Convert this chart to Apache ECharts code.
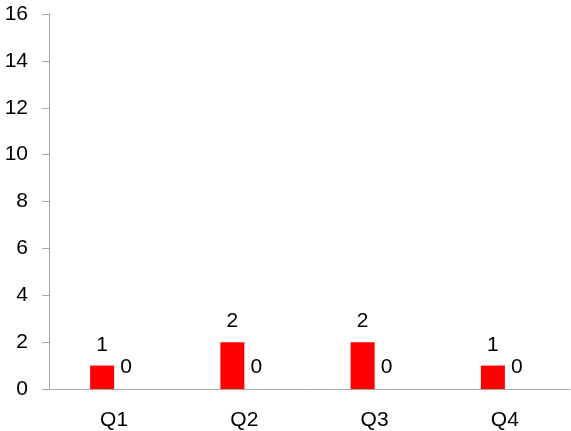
<!DOCTYPE html>
<html><head><meta charset="utf-8">
<script src="https://cdn.jsdelivr.net/npm/echarts@6/dist/echarts.min.js"></script>
<style>html,body{margin:0;padding:0;background:#fff}#c{width:571px;height:431px}</style>
</head><body><div id="c"></div>
<script>
const categories = ['Q1', 'Q2', 'Q3', 'Q4'];
const seriesA = [1, 2, 2, 1];
const seriesB = [0, 0, 0, 0];
const yTicks = { min: 0, max: 16, interval: 2 };

const font = 'Liberation Sans, Arial, sans-serif';
const chart = echarts.init(document.getElementById('c'));
chart.setOption({
  animation: false,
  textStyle: { fontFamily: font },
  grid: { left: 49, right: 1, top: 14, bottom: 41, containLabel: false },
  xAxis: {
    type: 'category',
    data: categories,
    axisLine: { lineStyle: { color: '#a6a6a6', width: 1 } },
    axisTick: { show: false },
    axisLabel: { color: '#000', fontSize: 21, fontFamily: font, margin: 21 }
  },
  yAxis: {
    type: 'value',
    min: yTicks.min, max: yTicks.max, interval: yTicks.interval,
    axisLine: { show: true, lineStyle: { color: '#a6a6a6', width: 1 } },
    axisTick: { show: true, length: 7, lineStyle: { color: '#a6a6a6' } },
    splitLine: { show: false },
    axisLabel: { color: '#000', fontSize: 21, fontFamily: font, margin: 21 }
  },
  series: [
    {
      type: 'bar', data: seriesA, barWidth: 24, barGap: '0%',
      itemStyle: { color: '#ff0000' },
      label: { show: true, position: 'top', distance: 10, color: '#000', fontSize: 21, fontFamily: font }
    },
    {
      type: 'bar', data: seriesB, barWidth: 24,
      itemStyle: { color: '#ff0000' },
      label: { show: true, position: 'top', distance: 11, color: '#000', fontSize: 21, fontFamily: font }
    }
  ]
});
</script></body></html>
